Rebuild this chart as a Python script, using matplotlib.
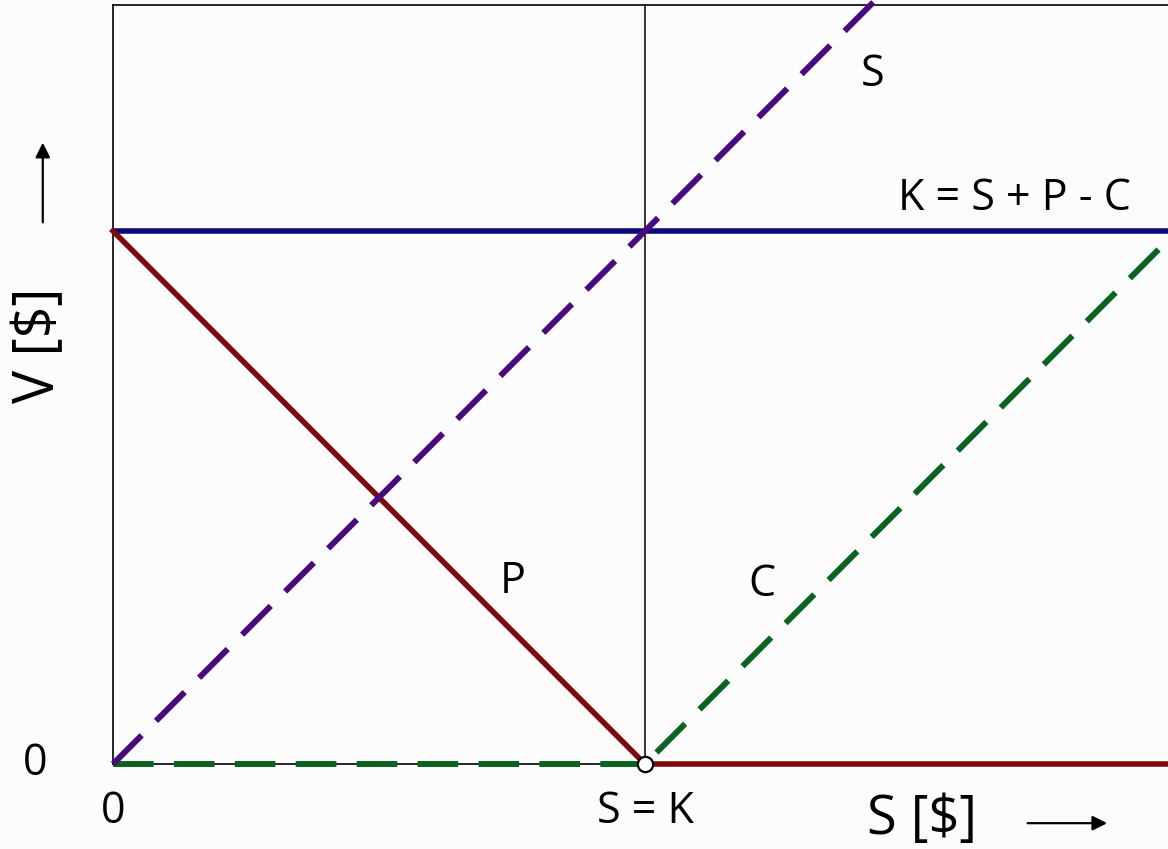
import matplotlib.pyplot as plt

# payoff at expiry, strike K = 1
strike = 1.0
spot = [0.0, 1.0, 2.0]
stock_value = [0.0, 1.0, 2.0]
put_value = [1.0, 0.0, 0.0]
call_value = [0.0, 0.0, 1.0]
bond_value = [1.0, 1.0, 1.0]

plt.rcParams['font.family'] = ['Open Sans', 'DejaVu Sans']

fig = plt.figure(figsize=(11.68, 8.49), dpi=100)
fig.patch.set_facecolor('#fcfcfc')
ax = fig.add_axes([113 / 1168, 85 / 849, 1055 / 1168, 759 / 849])
ax.set_facecolor('#fcfcfc')
ax.set_xlim(0, 1055 / 532)
ax.set_ylim(0, 759 / 533)

for side in ['left', 'bottom', 'top']:
    ax.spines[side].set_linewidth(1.2)
ax.spines['right'].set_visible(False)
ax.set_xticks([])
ax.set_yticks([])

ax.axvline(strike, color='black', lw=1.1, zorder=1)

ax.plot(spot, bond_value, color='#0b0b7a', lw=4.0, solid_capstyle='butt', zorder=2)
ax.plot(spot, put_value, color='#7e0a0e', lw=4.0, zorder=3, clip_on=False)
ax.plot(spot, call_value, color='#0a6420', lw=4.3, dashes=(6.8, 3.4),
        zorder=4, clip_on=False)
ax.plot(spot, stock_value, color='#4a0a7e', lw=4.3, dashes=(6.8, 3.4),
        zorder=4, clip_on=False)
ax.plot([strike], [0], 'o', ms=11, mfc='white', mec='black', mew=1.6,
        zorder=6, clip_on=False)

fs = 31
ax.text(1.427, 1.293, 'S', fontsize=fs, ha='center', va='center')
ax.text(1.695, 1.06, 'K = S + P - C', fontsize=fs, ha='center', va='center')
ax.text(0.752, 0.341, 'P', fontsize=fs, ha='center', va='center')
ax.text(1.22, 0.336, 'C', fontsize=fs, ha='center', va='center')
ax.text(-0.147, 0.0, '0', fontsize=fs, ha='center', va='center')
ax.text(0.0, -0.09, '0', fontsize=fs, ha='center', va='center')
ax.text(strike, -0.09, 'S = K', fontsize=fs, ha='center', va='center')
ax.text(1.52, -0.104, 'S [$]', fontsize=39, ha='center', va='center')
ax.text(-0.138, 0.786, 'V [$]', fontsize=40, ha='center', va='center',
        rotation=90)

arrow = dict(arrowstyle='-|>', color='black', lw=1.6, mutation_scale=22)
ax.annotate('', xy=(1.874, -0.111), xytext=(1.714, -0.111),
            arrowprops=arrow, annotation_clip=False)
ax.annotate('', xy=(-0.132, 1.171), xytext=(-0.132, 1.011),
            arrowprops=arrow, annotation_clip=False)

fig.savefig('out.png', dpi=100, facecolor=fig.get_facecolor())
